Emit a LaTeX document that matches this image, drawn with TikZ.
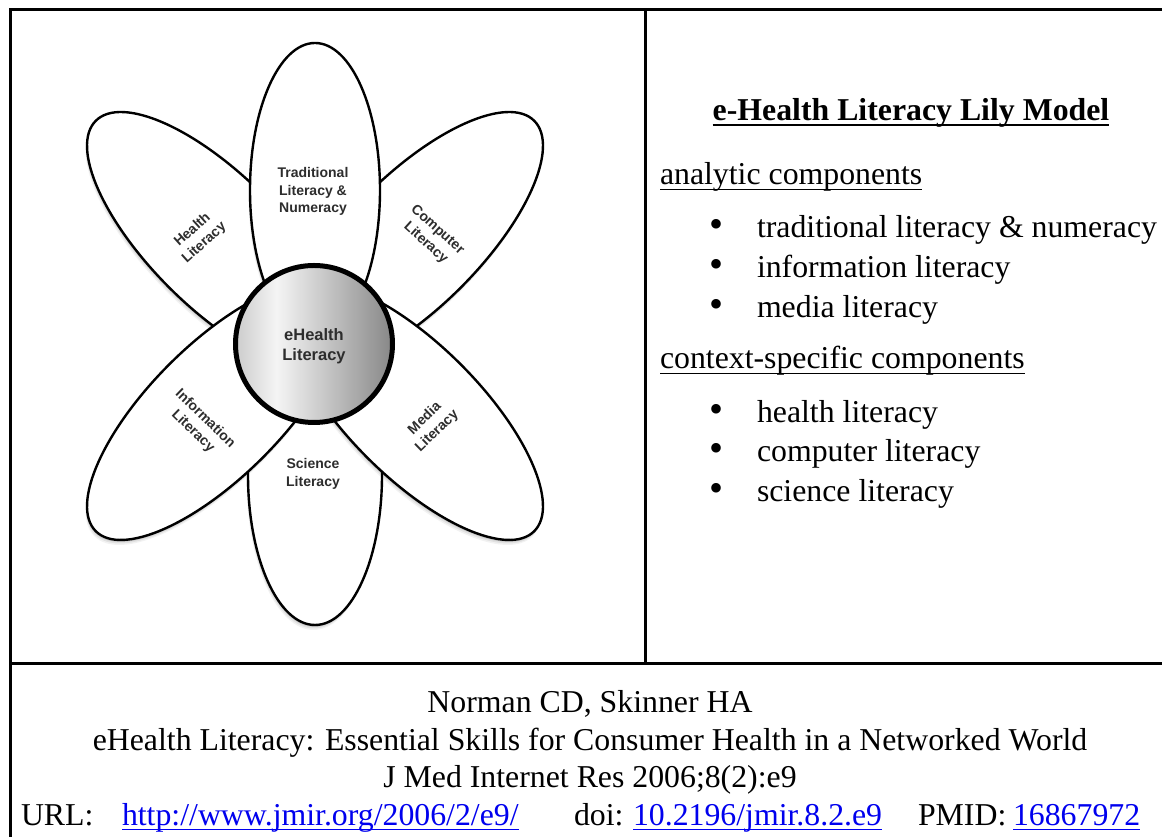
\documentclass[tikz,border=0pt]{standalone}
\usepackage{fontspec}
\setmainfont{Liberation Serif}
\newfontfamily\petalfont{Liberation Sans}
\usetikzlibrary{shapes.geometric,shadows}

\definecolor{linkblue}{RGB}{0,0,238}
\definecolor{petalink}{RGB}{45,45,45}

% light-left, white, grey-right shading for the centre disc
\pgfdeclarehorizontalshading{coreshade}{100bp}{color(0bp)=(black!20); color(25bp)=(black!20); color(38bp)=(black!4); color(75bp)=(black!47); color(100bp)=(black!47)}

% underline at a fixed depth below the baseline (crosses descenders)
\newlength\ulwd
\newcommand\ulined[2][5.5pt]{\settowidth{\ulwd}{#2}\rlap{\rule[-#1]{\ulwd}{1.8pt}}#2}

\tikzset{
  body/.style={font=\fontsize{31.8}{40}\selectfont, inner sep=0pt, outer sep=0pt},
  bulletmark/.style={font=\fontsize{40}{40}\selectfont, inner sep=0pt, outer sep=0pt, anchor=base},
  % soft shadow built from a few faint offset copies
  petal/.style={shape=ellipse, draw=black, line width=2.4pt, fill=white,
    inner sep=0pt,
    drop shadow={shadow xshift=-0.5pt, shadow yshift=-2pt, opacity=0.10, fill=black},
    drop shadow={shadow xshift=-1pt, shadow yshift=-3.5pt, opacity=0.07, fill=black},
    drop shadow={shadow xshift=-1.5pt, shadow yshift=-5pt, opacity=0.05, fill=black}},
  longpetal/.style={petal, minimum width=132pt, minimum height=340pt},
  petallabel/.style={font=\petalfont\bfseries\fontsize{14}{17.5}\selectfont,
    text=petalink, align=center, inner sep=0pt},
  frame/.style={line width=3pt, line cap=rect}
}

\begin{document}
\begin{tikzpicture}[x=1pt,y=1pt]
\useasboundingbox (0,0) rectangle (1162,837);

% table rules
\draw[frame] (10,0) -- (10,827) -- (1162,827);
\draw[frame] (10,173) -- (1162,173);
\draw[frame] (645,827) -- (645,173);

% lily: back petals
\node[longpetal, rotate=45]  (health)   at (216,596) {};
\node[longpetal, rotate=-45] (computer) at (414,596) {};
\node[petal, minimum width=134pt, minimum height=300pt] (science) at (315,362) {};
% front petals
\node[petal, minimum width=130pt, minimum height=294pt] (tradition) at (315,647) {};
\node[longpetal, rotate=-45] (information) at (216,426) {};
\node[longpetal, rotate=45]  (media)    at (414,426) {};

% centre disc
\node[circle, draw=black, line width=5pt, minimum size=157pt, shading=coreshade,
      inner sep=0pt] (core) at (314,493) {};
\node[font=\petalfont\bfseries\fontsize{16.5}{20}\selectfont, text=petalink,
      align=center, inner sep=0pt] (corelabel) at (314,491) {eHealth\\Literacy};

% petal labels
\node[petallabel] (tradlabel) at (313,645.5) {Traditional\\Literacy \&\\Numeracy};
\node[petallabel] (sciencelabel) at (313,363) {Science\\Literacy};
\node[petallabel, rotate=42]  (healthlabel) at (198.5,600.5) {Health\\Literacy};
\node[petallabel, rotate=-42] (computerlabel) at (431.5,600.5) {Computer\\Literacy};
\node[petallabel, rotate=-44] (infolabel) at (199,412) {Information\\Literacy};
\node[petallabel, rotate=44]  (medialabel) at (431,412) {Media\\Literacy};

% model summary
\node[body, anchor=base] (title) at (911,716.5) {\bfseries\ulined{e-Health Literacy Lily Model}};
\node[body, anchor=base west] (analytic) at (660,652) {\ulined{analytic components}};
\node[bulletmark] (b1) at (716,599) {\textbullet};
\node[body, anchor=base west] (a1) at (757,599) {traditional literacy \& numeracy};
\node[bulletmark] (b2) at (716,559) {\textbullet};
\node[body, anchor=base west] (a2) at (757,559) {information literacy};
\node[bulletmark] (b3) at (716,519) {\textbullet};
\node[body, anchor=base west] (a3) at (757,519) {media literacy};
\node[body, anchor=base west] (context) at (660,468) {\ulined{context-specific components}};
\node[bulletmark] (b4) at (716,414.5) {\textbullet};
\node[body, anchor=base west] (c1) at (757,414.5) {health literacy};
\node[bulletmark] (b5) at (716,375) {\textbullet};
\node[body, anchor=base west] (c2) at (757,375) {computer literacy};
\node[bulletmark] (b6) at (716,335.5) {\textbullet};
\node[body, anchor=base west] (c3) at (757,335.5) {science literacy};

% citation
\node[body, anchor=base] (authors) at (590,124) {Norman CD, Skinner HA};
\node[body, anchor=base] (papertitle) at (590,86.5) {eHealth Literacy: Essential Skills for Consumer Health in a Networked World};
\node[body, anchor=base] (journal) at (590,49) {J Med Internet Res 2006;8(2):e9};
\node[body, anchor=base west] (urlkey) at (21,11) {URL:};
\node[body, anchor=base west, text=linkblue] (url) at (122,11) {\ulined[4.5pt]{http://www.jmir.org/2006/2/e9/}};
\node[body, anchor=base west] (doikey) at (574,11) {doi:};
\node[body, anchor=base west, text=linkblue] (doi) at (633,11) {\ulined[4.5pt]{10.2196/jmir.8.2.e9}};
\node[body, anchor=base west] (pmidkey) at (918,11) {PMID:};
\node[body, anchor=base west, text=linkblue] (pmid) at (1013,11) {\ulined[4.5pt]{16867972}};
\end{tikzpicture}
\end{document}
